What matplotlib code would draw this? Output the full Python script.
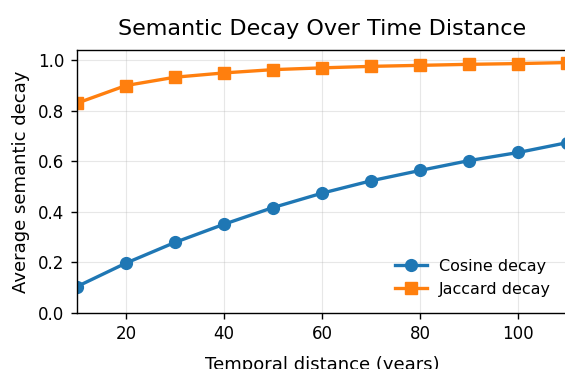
import numpy as np
import matplotlib.pyplot as plt

years = [10, 20, 30, 40, 50, 60, 70, 80, 90, 100, 110]
cosine = [0.104, 0.197, 0.279, 0.351, 0.417, 0.474, 0.523, 0.564, 0.603, 0.635, 0.674]
jaccard = [0.830, 0.900, 0.933, 0.950, 0.963, 0.970, 0.976, 0.980, 0.984, 0.987, 0.991]

fig = plt.figure(figsize=(5.65, 3.69), dpi=100)
ax = fig.add_axes([0.136, 0.152, 0.868, 0.712])

ax.plot(years, cosine, '-o', color='#1f77b4', linewidth=2.4, markersize=8.5, label='Cosine decay')
ax.plot(years, jaccard, '-s', color='#ff7f0e', linewidth=2.4, markersize=8.5, label='Jaccard decay')

ax.set_xlim(10, 110)
ax.set_ylim(0, 1.04)
ax.set_xticks([20, 40, 60, 80, 100])
ax.tick_params(labelsize=12, length=4.5, width=1.0, pad=4.5)
for s in ax.spines.values():
    s.set_linewidth(1.0)
ax.grid(True, alpha=0.3)

ax.set_title('Semantic Decay Over Time Distance', fontsize=16, pad=11)
ax.set_xlabel('Temporal distance (years)', fontsize=13, labelpad=9)
ax.set_ylabel('Average semantic decay', fontsize=13, labelpad=6)
ax.legend(loc='lower right', frameon=False, fontsize=11.5, borderaxespad=0.6)

fig.savefig('out.png', dpi=100)
